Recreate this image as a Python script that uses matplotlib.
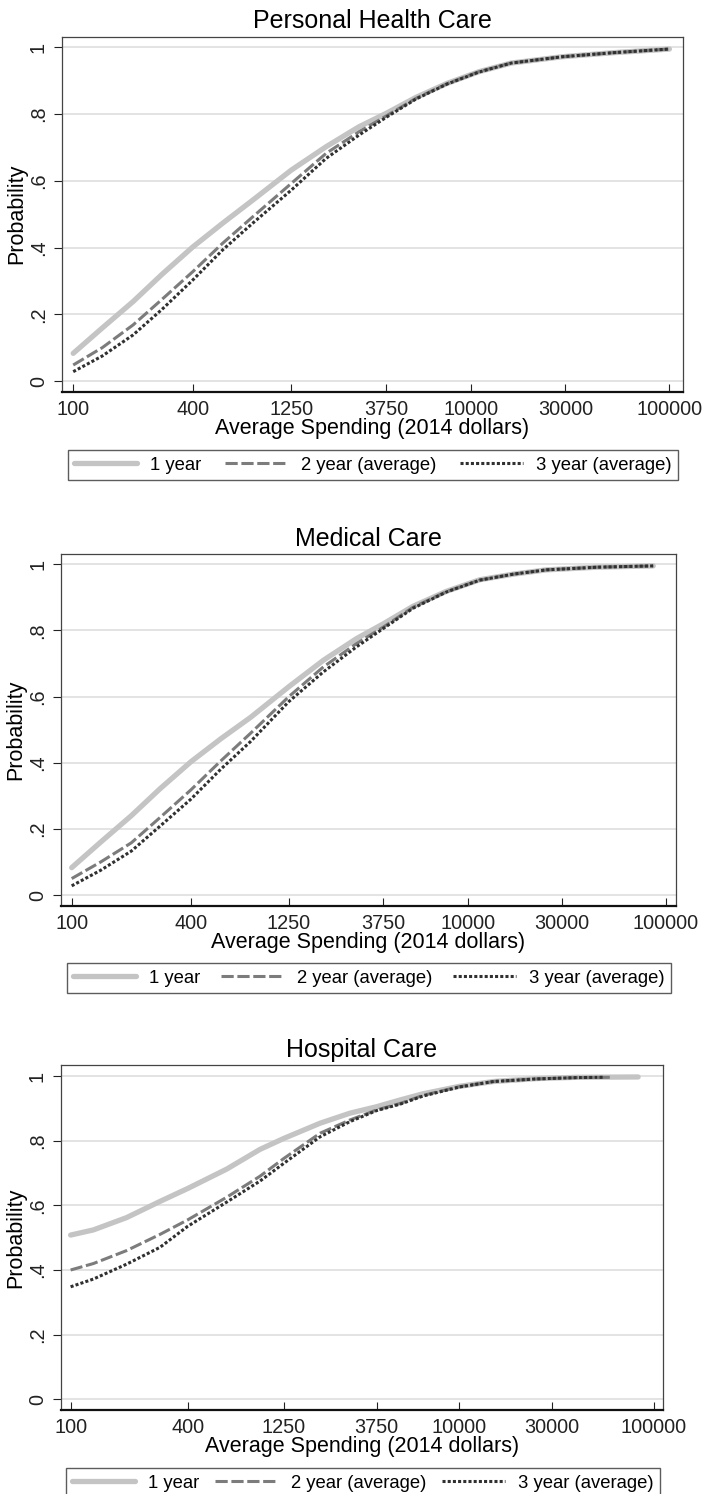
import matplotlib
matplotlib.use('Agg')
import matplotlib.pyplot as plt

plt.rcParams['font.family'] = ['Liberation Sans', 'DejaVu Sans']

# Personal Health Care
phc_x = [100, 140, 200, 280, 400, 565, 800, 1250, 1870, 2740, 3750, 5300, 7600, 11000, 16000, 29000, 52000, 100000]
phc_1yr = [0.083, 0.159, 0.238, 0.32, 0.402, 0.473, 0.542, 0.632, 0.702, 0.762, 0.802, 0.85, 0.892, 0.927, 0.953, 0.972, 0.984, 0.995]
phc_2yr = [0.048, 0.1, 0.168, 0.245, 0.328, 0.413, 0.492, 0.592, 0.682, 0.747, 0.794, 0.847, 0.891, 0.927, 0.953, 0.972, 0.984, 0.995]
phc_3yr = [0.028, 0.075, 0.138, 0.215, 0.303, 0.393, 0.473, 0.572, 0.667, 0.737, 0.79, 0.845, 0.89, 0.926, 0.953, 0.972, 0.984, 0.995]

# Medical Care
med_x = [100, 140, 200, 280, 400, 565, 800, 1250, 1870, 2740, 3750, 5300, 7800, 11500, 17000, 25000, 45000, 86500]
med_1yr = [0.083, 0.16, 0.24, 0.322, 0.403, 0.472, 0.537, 0.63, 0.71, 0.775, 0.82, 0.873, 0.918, 0.953, 0.97, 0.983, 0.991, 0.995]
med_2yr = [0.05, 0.1, 0.158, 0.235, 0.318, 0.405, 0.489, 0.60, 0.69, 0.76, 0.81, 0.87, 0.917, 0.952, 0.97, 0.983, 0.991, 0.995]
med_3yr = [0.028, 0.075, 0.133, 0.209, 0.29, 0.38, 0.464, 0.585, 0.675, 0.75, 0.806, 0.867, 0.916, 0.952, 0.97, 0.983, 0.991, 0.995]

# Hospital Care (series end at different spending levels)
hosp_x1 = [100, 131, 194, 288, 400, 635, 942, 1250, 1920, 2735, 3750, 4960, 6500, 10000, 15000, 25000, 40000, 83000]
hosp_x2 = [100, 131, 194, 288, 400, 635, 942, 1250, 1920, 2735, 3750, 4960, 6500, 10000, 15000, 25000, 40000, 60000]
hosp_x3 = [100, 131, 194, 288, 400, 635, 942, 1250, 1920, 2735, 3750, 4960, 6500, 10000, 15000, 25000, 40000, 54500]
hosp_1yr = [0.508, 0.524, 0.562, 0.612, 0.652, 0.712, 0.773, 0.807, 0.854, 0.885, 0.905, 0.926, 0.945, 0.968, 0.983, 0.992, 0.996, 0.997]
hosp_2yr = [0.40, 0.42, 0.46, 0.51, 0.555, 0.625, 0.69, 0.745, 0.823, 0.864, 0.895, 0.915, 0.94, 0.967, 0.983, 0.991, 0.995, 0.996]
hosp_3yr = [0.348, 0.372, 0.418, 0.47, 0.535, 0.61, 0.675, 0.73, 0.812, 0.859, 0.893, 0.913, 0.938, 0.966, 0.983, 0.991, 0.995, 0.996]

x_ticks = [100, 400, 1250, 3750, 10000, 30000, 100000]
y_ticks = [0, 0.2, 0.4, 0.6, 0.8, 1]
y_tick_labels = ['0', '.2', '.4', '.6', '.8', '1']
series_labels = ['1 year', '2 year (average)', '3 year (average)']

W, H = 704, 1494


def px_axes(fig, left, top, right, bottom):
    return fig.add_axes([left / W, 1 - bottom / H, (right - left) / W, (bottom - top) / H])


def draw_panel(ax, title, xs, ys, xlim, ylim):
    ax.plot(xs[0], ys[0], color='#c4c4c4', lw=3.8, solid_capstyle='round', label=series_labels[0], zorder=3)
    ax.plot(xs[1], ys[1], color='#7c7c7c', lw=2.2, dashes=(4, 1.2), label=series_labels[1], zorder=4)
    ax.plot(xs[2], ys[2], color='#303030', lw=2.2, dashes=(1.0, 0.7), label=series_labels[2], zorder=5)

    ax.set_xscale('log')
    ax.set_xlim(*xlim)
    ax.set_ylim(*ylim)
    ax.set_xticks(x_ticks)
    ax.set_xticklabels([str(t) for t in x_ticks])
    ax.minorticks_off()
    ax.set_yticks(y_ticks)
    ax.set_yticklabels(y_tick_labels, rotation=90, va='center')

    for y in y_ticks:
        ax.axhline(y, color='#e0e0e0', lw=1.3, zorder=1)

    ax.tick_params(axis='x', direction='in', length=6, width=0.8, labelsize=14.3, pad=6, colors='#222222')
    ax.tick_params(axis='y', direction='out', length=6, width=0.8, labelsize=14.3, pad=4, colors='#222222')
    for side in ['top', 'right', 'left']:
        ax.spines[side].set_color('#444444')
        ax.spines[side].set_linewidth(0.9)
    ax.spines['bottom'].set_color('#111111')
    ax.spines['bottom'].set_linewidth(1.6)

    ax.set_title(title, fontsize=18, pad=6)
    ax.set_xlabel('Average Spending (2014 dollars)', fontsize=15.5, labelpad=-1)
    ax.set_ylabel('Probability', fontsize=15.5, labelpad=1)


def add_legend(fig, ax, left, top, right, bottom):
    leg = fig.legend(*ax.get_legend_handles_labels(),
                     loc='lower left',
                     bbox_to_anchor=(left / W, 1 - bottom / H, (right - left) / W, (bottom - top) / H),
                     mode='expand', ncol=3, fontsize=13.3, frameon=True, fancybox=False,
                     edgecolor='#333333', handlelength=3.4, handletextpad=0.7,
                     borderaxespad=0, borderpad=0.35)
    leg.get_frame().set_linewidth(1.0)
    return leg


fig = plt.figure(figsize=(W / 100, H / 100), dpi=100)

ax1 = px_axes(fig, 61.7, 36.7, 683.3, 391.7)
draw_panel(ax1, 'Personal Health Care', [phc_x, phc_x, phc_x], [phc_1yr, phc_2yr, phc_3yr],
           (10 ** 1.942, 10 ** 5.07), (-0.032, 1.032))
add_legend(fig, ax1, 68, 447, 678, 480)

ax2 = px_axes(fig, 61, 554.3, 676, 905.7)
draw_panel(ax2, 'Medical Care', [med_x, med_x, med_x], [med_1yr, med_2yr, med_3yr],
           (10 ** 1.946, 10 ** 5.052), (-0.032, 1.030))
add_legend(fig, ax2, 67, 960, 671, 993)

ax3 = px_axes(fig, 60.7, 1065, 663, 1410)
draw_panel(ax3, 'Hospital Care', [hosp_x1, hosp_x2, hosp_x3], [hosp_1yr, hosp_2yr, hosp_3yr],
           (10 ** 1.949, 10 ** 5.047), (-0.033, 1.034))
add_legend(fig, ax3, 66, 1463, 660, 1498)

fig.savefig('out.png', dpi=100, facecolor='white')
